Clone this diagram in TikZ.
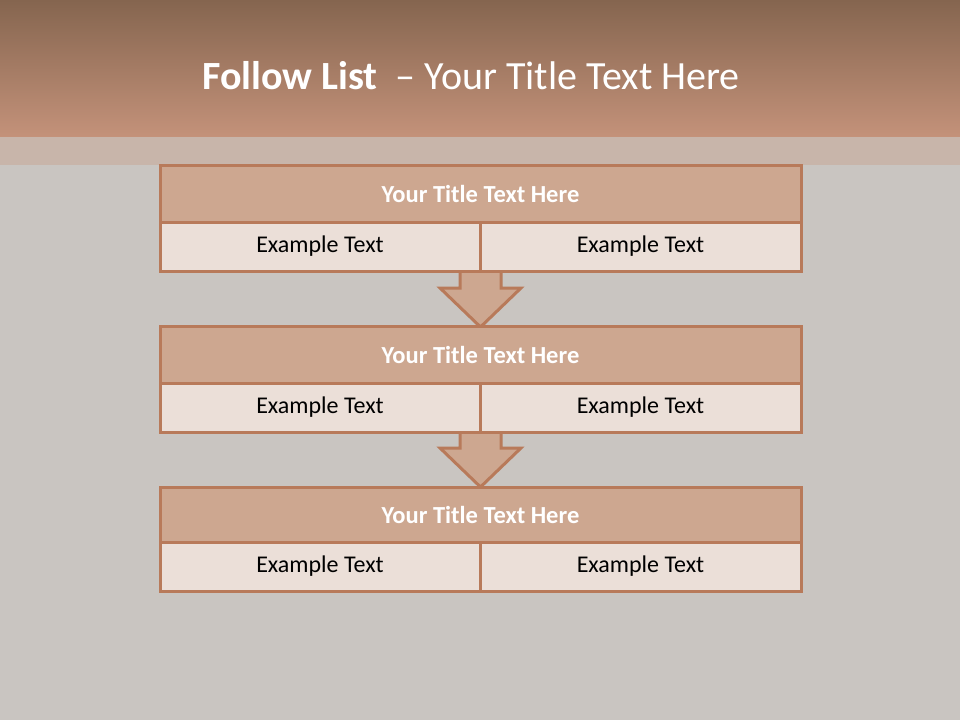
\documentclass[tikz,border=0pt]{standalone}
\usepackage{fontspec}
\setmainfont{Carlito}
\definecolor{bg}{HTML}{C9C5C1}
\definecolor{hdtop}{HTML}{85654F}
\definecolor{hdbot}{HTML}{C4927A}
\definecolor{band}{HTML}{C8B5AA}
\definecolor{ttlfill}{HTML}{CDA790}
\definecolor{rowfill}{HTML}{EBDFD8}
\definecolor{edge}{HTML}{B87A5A}
\tikzset{
  ttlbox/.style={draw=edge, line width=3pt, fill=ttlfill},
  rowbox/.style={draw=edge, line width=3pt, fill=rowfill},
  ttltext/.style={text=white, font=\fontsize{24.5}{28}\selectfont\bfseries},
  rowtext/.style={text=black, font=\fontsize{24}{28}\selectfont},
  arrowshape/.style={draw=edge, line width=3pt, fill=ttlfill, line join=miter}
}
\begin{document}
\begin{tikzpicture}[x=1pt,y=-1pt]
\useasboundingbox (0,0) rectangle (960,720);
\fill[bg] (0,0) rectangle (960,720);
\shade[top color=hdtop, bottom color=hdbot] (0,0) rectangle (960,137);
\fill[band] (0,137) rectangle (960,165);
\node[text=white, font=\fontsize{40}{46}\selectfont, anchor=center] (title) at (471,76) {\textbf{Follow List} \ -- Your Title Text Here};
% arrows
\draw[arrowshape] (460,269) -- (460,288) -- (440,288) -- (480.5,327) -- (521,288) -- (501,288) -- (501,269);
\draw[arrowshape] (460,430) -- (460,448) -- (440,448) -- (480.5,487) -- (521,448) -- (501,448) -- (501,430);
% blocks
\foreach \i/\t/\m/\b in {1/165/222/271, 2/326/383/432, 3/487/542/591}{
  \draw[ttlbox] (160,\t) rectangle (801,\m);
  \node[ttltext] (t\i) at (480.5,{(\t+\m)/2}) {Your Title Text Here};
  \draw[rowbox] (160,\m) rectangle (480.5,\b);
  \draw[rowbox] (480.5,\m) rectangle (801,\b);
  \node[rowtext] (l\i) at (320,{(\m+\b)/2}) {Example Text};
  \node[rowtext] (r\i) at (640.5,{(\m+\b)/2}) {Example Text};
}
\end{tikzpicture}
\end{document}
